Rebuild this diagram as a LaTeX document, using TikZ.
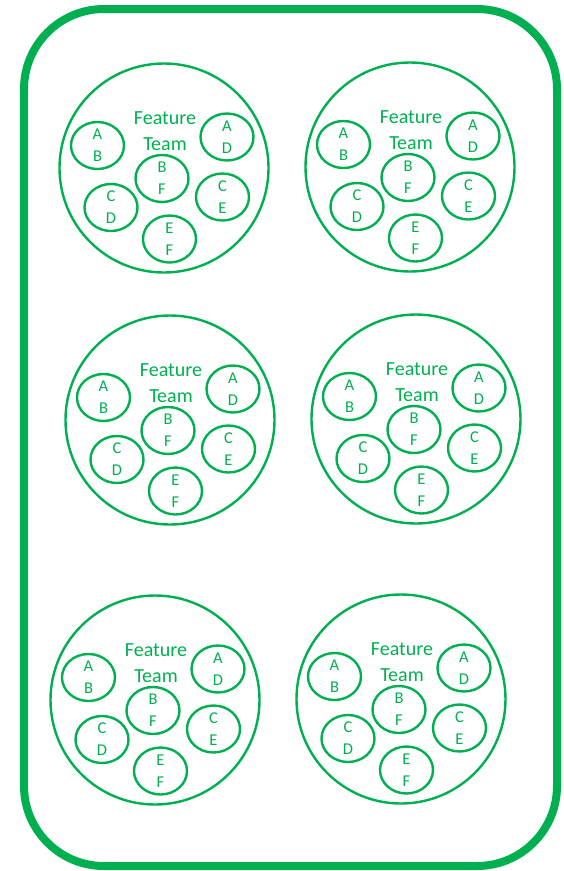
\documentclass[tikz,border=0pt]{standalone}
\usepackage{fontspec}
\setmainfont{Carlito}
\usetikzlibrary{shapes.geometric}
\definecolor{og}{HTML}{00B050}
\tikzset{
  teamcircle/.style={draw=og, line width=2.4pt, circle, minimum size=209pt, inner sep=0pt},
  member/.style={draw=og, line width=2.4pt, ellipse, minimum width=53pt, minimum height=47pt, inner sep=0pt,
    text=og, font=\fontsize{16.5}{22}\selectfont, align=center},
  title/.style={text=og, font=\fontsize{20}{26}\selectfont, align=center, inner sep=0pt},
}
\newcommand\teamgroup[3]{%
  \node[teamcircle] (#1) at (#2,#3) {};
  \node[title] (#1-t) at ([shift={(1,-37)}]#1.center) {Feature\\Team};
  \node[member] (#1-ab) at ([shift={(-66.5,-22.5)}]#1.center) {A\\B};
  \node[member] (#1-ad) at ([shift={(63,-31)}]#1.center) {A\\D};
  \node[member] (#1-bf) at ([shift={(-2,10.5)}]#1.center) {B\\F};
  \node[member] (#1-cd) at ([shift={(-53,39.5)}]#1.center) {C\\D};
  \node[member] (#1-ce) at ([shift={(58.5,29)}]#1.center) {C\\E};
  \node[member] (#1-ef) at ([shift={(5.5,71)}]#1.center) {E\\F};
}
\begin{document}
\begin{tikzpicture}[x=1pt,y=-1pt]
\useasboundingbox (0,0) rectangle (564,871);
\draw[og, line width=8pt, rounded corners=80pt] (24,9) rectangle (557,866);
\teamgroup{ta}{164}{168}
\teamgroup{tb}{410}{167}
\teamgroup{tc}{170}{420}
\teamgroup{td}{416}{419}
\teamgroup{te}{155}{700}
\teamgroup{tf}{401}{699}
\end{tikzpicture}
\end{document}
